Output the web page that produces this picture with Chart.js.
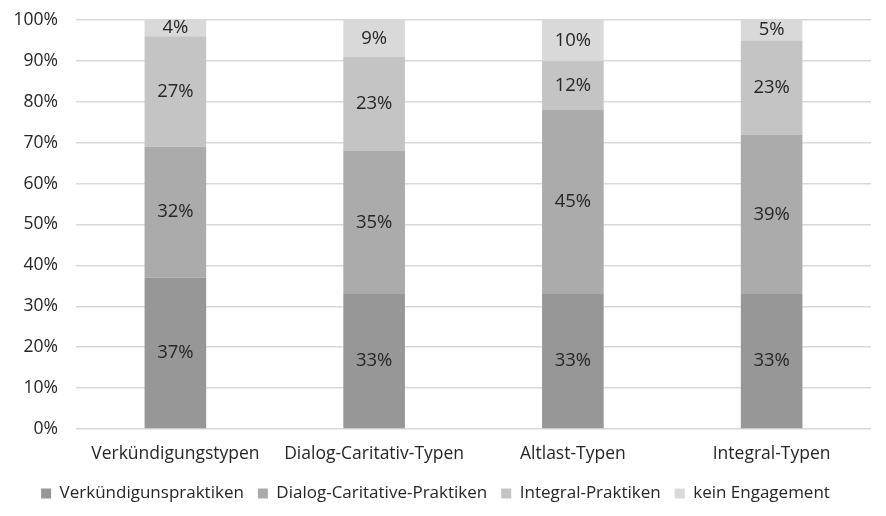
<!DOCTYPE html>
<html>
<head>
<meta charset="utf-8">
<script src="https://cdn.jsdelivr.net/npm/chart.js@4"></script>
<style>
  html, body { margin: 0; padding: 0; background: #fff; }
  #wrap { width: 886px; height: 516px; }
</style>
</head>
<body>
<div id="wrap"><canvas id="ChTypen"></canvas></div>
<script>
const Kategorien = ["Verkündigungstypen", "Dialog-Caritativ-Typen", "Altlast-Typen", "Integral-Typen"];
const Verkuendigung = [37, 33, 33, 33];
const DialogCaritativ = [32, 35, 45, 39];
const Integral = [27, 23, 12, 23];
const KeinEngagement = [4, 9, 10, 5];
const YTicks = [0, 10, 20, 30, 40, 50, 60, 70, 80, 90, 100];

const FONT = "'Open Sans', 'Noto Sans', sans-serif";

// Prozentwerte in die Balken schreiben
const LabelPlugin = {
    id: 'labels',
    afterDatasetsDraw(chart) {
        const ctx = chart.ctx;
        ctx.save();
        ctx.font = "18.5px " + FONT;
        ctx.fillStyle = "#262626";
        ctx.textAlign = "center";
        ctx.textBaseline = "middle";
        chart.data.datasets.forEach((ds, i) => {
            chart.getDatasetMeta(i).data.forEach((bar, j) => {
                const mid = (bar.y + bar.base) / 2;
                ctx.fillText(ds.data[j] + "%", bar.x, mid);
            });
        });
        ctx.restore();
    }
};

const serie = (label, data, color) => ({
    label: label,
    data: data,
    backgroundColor: color,
    borderWidth: 0,
    categoryPercentage: 1,
    barPercentage: 0.31
});

new Chart(document.getElementById('ChTypen'), {
    type: 'bar',
    data: {
        labels: Kategorien,
        datasets: [
            serie('Verkündigunspraktiken', Verkuendigung, '#979797'),
            serie('Dialog-Caritative-Praktiken', DialogCaritativ, '#ababab'),
            serie('Integral-Praktiken', Integral, '#c4c4c4'),
            serie('kein Engagement', KeinEngagement, '#d9d9d9')
        ]
    },
    options: {
        responsive: true,
        maintainAspectRatio: false,
        animation: false,
        layout: { padding: { top: 20, right: 15, left: 0, bottom: 4 } },
        scales: {
            x: {
                stacked: true,
                grid: { display: false },
                border: { display: false },
                ticks: { color: "#262626", font: { family: FONT, size: 17.5 }, padding: 6.5 }
            },
            y: {
                stacked: true,
                min: 0,
                max: 100,
                afterBuildTicks: (axis) => { axis.ticks = YTicks.map(v => ({ value: v })); },
                afterFit: (axis) => { axis.width = 76; axis.paddingTop = 0; },
                grid: { color: '#d9d9d9', lineWidth: 1.5, drawTicks: false },
                border: { display: false },
                ticks: {
                    color: "#262626",
                    font: { family: FONT, size: 17.5 },
                    padding: 18,
                    callback: (v) => v + "%"
                }
            }
        },
        plugins: {
            legend: {
                position: 'bottom',
                labels: {
                    color: "#262626",
                    font: { family: FONT, size: 17 },
                    boxWidth: 10,
                    boxHeight: 10,
                    padding: 14
                }
            },
            tooltip: { enabled: false }
        }
    },
    plugins: [LabelPlugin]
});
</script>
</body>
</html>
